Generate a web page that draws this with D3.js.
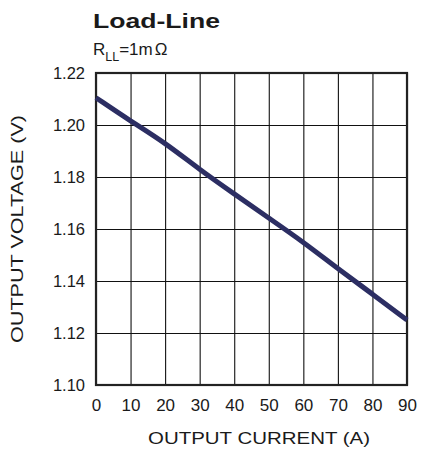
<!DOCTYPE html>
<html>
<head>
<meta charset="utf-8">
<script src="https://cdn.jsdelivr.net/npm/d3@7"></script>
<style>
  body { margin: 0; background: #fff; }
  svg { display: block; font-family: Arial, "Liberation Sans", Helvetica, sans-serif; }
</style>
</head>
<body>
<script>
// load line data
var current = [0, 10, 20, 30, 40, 50, 60, 70, 80, 90];
var voltage = [1.2105, 1.2015, 1.1932, 1.1828, 1.1735, 1.1642, 1.1550, 1.1447, 1.1350, 1.1250];
var xTicks = [0, 10, 20, 30, 40, 50, 60, 70, 80, 90];
var yTicks = [1.10, 1.12, 1.14, 1.16, 1.18, 1.20, 1.22];

var width = 424, height = 449;
// note: "top" is taken by window.top, so plot edges get their own names
var plotLeft = 96, plotRight = 407, plotTop = 73, plotBottom = 385;

var svg = d3.select('body').append('svg')
  .attr('width', width)
  .attr('height', height);

var x = d3.scaleLinear().domain([0, 90]).range([plotLeft, plotRight]);
var y = d3.scaleLinear().domain([1.10, 1.22]).range([plotBottom, plotTop]);

// grid lines
var xGrid = d3.axisBottom(x).tickValues(xTicks).tickSize(-(plotBottom - plotTop)).tickFormat('');
var yGrid = d3.axisLeft(y).tickValues(yTicks).tickSize(-(plotRight - plotLeft)).tickFormat('');

svg.append('g')
  .attr('transform', 'translate(0,' + plotBottom + ')')
  .call(xGrid)
  .call(function(g) { g.select('.domain').remove(); })
  .selectAll('line').attr('stroke', '#111').attr('stroke-width', 1.1);

svg.append('g')
  .attr('transform', 'translate(' + plotLeft + ',0)')
  .call(yGrid)
  .call(function(g) { g.select('.domain').remove(); })
  .selectAll('line').attr('stroke', '#111').attr('stroke-width', 1.1);

// tick labels
var xAxis = d3.axisBottom(x).tickValues(xTicks).tickSize(0).tickPadding(14);
var yAxis = d3.axisLeft(y).tickValues(yTicks).tickSize(0).tickPadding(11).tickFormat(d3.format('.2f'));

svg.append('g')
  .attr('transform', 'translate(0,' + plotBottom + ')')
  .call(xAxis)
  .call(function(g) { g.select('.domain').remove(); })
  .selectAll('text')
  .attr('font-size', 17)
  .attr('fill', '#1a1a1a');

svg.append('g')
  .attr('transform', 'translate(' + plotLeft + ',0)')
  .call(yAxis)
  .call(function(g) { g.select('.domain').remove(); })
  .selectAll('text')
  .attr('font-size', 16.5)
  .attr('fill', '#1a1a1a');

// frame
svg.append('rect')
  .attr('x', plotLeft)
  .attr('y', plotTop)
  .attr('width', plotRight - plotLeft)
  .attr('height', plotBottom - plotTop)
  .attr('fill', 'none')
  .attr('stroke', '#222')
  .attr('stroke-width', 2.2);

// the load line
var line = d3.line()
  .x(function(d, i) { return x(current[i]); })
  .y(function(d) { return y(d); })
  .curve(d3.curveBasis);

svg.append('path')
  .datum(voltage)
  .attr('d', line)
  .attr('fill', 'none')
  .attr('stroke', '#2c2e63')
  .attr('stroke-width', 5)
  .attr('stroke-linecap', 'butt');

// titles
svg.append('text')
  .attr('x', 93)
  .attr('y', 28)
  .attr('font-size', 21)
  .attr('font-weight', 'bold')
  .attr('fill', '#1a1a1a')
  .attr('textLength', 127)
  .attr('lengthAdjust', 'spacingAndGlyphs')
  .text('Load-Line');

var sub = svg.append('text')
  .attr('x', 93)
  .attr('y', 55)
  .attr('font-size', 17)
  .attr('fill', '#1a1a1a');
sub.append('tspan').text('R');
sub.append('tspan').attr('font-size', 12.5).attr('dy', 6).text('LL');
sub.append('tspan').attr('dy', -6).text('=1m');
sub.append('tspan').attr('dx', 2).text('Ω');

svg.append('text')
  .attr('x', 259)
  .attr('y', 444)
  .attr('text-anchor', 'middle')
  .attr('font-size', 17)
  .attr('fill', '#1a1a1a')
  .attr('textLength', 222)
  .attr('lengthAdjust', 'spacingAndGlyphs')
  .text('OUTPUT CURRENT (A)');

svg.append('text')
  .attr('transform', 'translate(23,' + ((plotTop + plotBottom) / 2) + ') rotate(-90)')
  .attr('text-anchor', 'middle')
  .attr('font-size', 17)
  .attr('fill', '#1a1a1a')
  .attr('textLength', 228)
  .attr('lengthAdjust', 'spacingAndGlyphs')
  .text('OUTPUT VOLTAGE (V)');
</script>
</body>
</html>
